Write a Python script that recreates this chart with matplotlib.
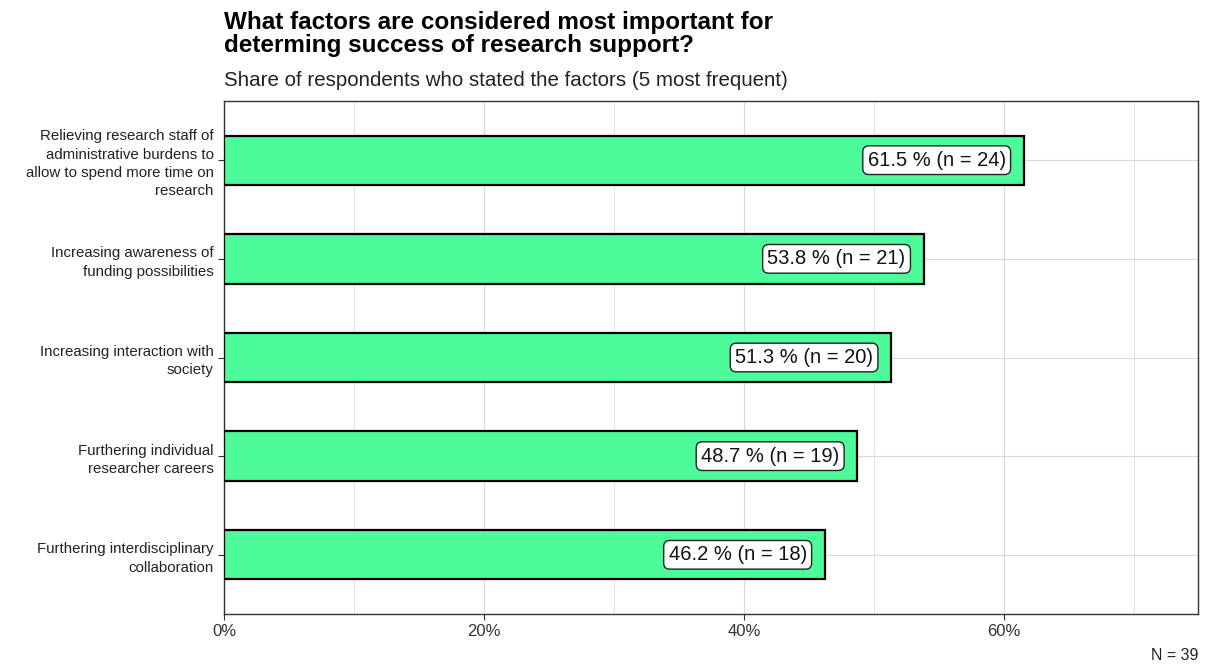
import numpy as np
from matplotlib import pyplot as plt
from matplotlib.ticker import MultipleLocator, FuncFormatter

plt.rcParams['font.family'] = ['Liberation Sans', 'DejaVu Sans']

# data (top to bottom)
factors = ['Relieving research staff of\nadministrative burdens to\nallow to spend more time on\nresearch',
           'Increasing awareness of\nfunding possibilities',
           'Increasing interaction with\nsociety',
           'Furthering individual\nresearcher careers',
           'Furthering interdisciplinary\ncollaboration']
shares = [61.5, 53.8, 51.3, 48.7, 46.2]
counts = [24, 21, 20, 19, 18]
total_n = 39

fig = plt.figure(figsize=(12.05, 6.64), dpi=100)
fig.subplots_adjust(left=224/1205, right=1198/1205, top=1-101/664, bottom=1-614/664)
ax = fig.add_subplot(111)

ypos = np.arange(len(factors))
ax.barh(ypos, shares, height=0.5, color='#4DFB9B', edgecolor='black', linewidth=1.6, zorder=3)

# value labels in white boxes inside the bar ends
for y, v, c in zip(ypos, shares, counts):
    ax.annotate('{:.1f} % (n = {})'.format(v, c), xy=(v, y), xytext=(-18, 0),
                textcoords='offset pixels', ha='right', va='center', fontsize=14.5,
                color='#111111', zorder=4,
                bbox=dict(boxstyle='round,pad=0.24,rounding_size=0.3', fc='white', ec='#222222', lw=1))

ax.set_xlim(0, 74.9)
ax.set_ylim(len(factors) - 0.4, -0.6)
ax.set_yticks(ypos)
ax.set_yticklabels(factors, fontsize=10.8, color='#222222')
for lbl in ax.get_yticklabels():
    lbl.set_linespacing(1.4)
ax.xaxis.set_major_locator(MultipleLocator(20))
ax.xaxis.set_minor_locator(MultipleLocator(10))
ax.xaxis.set_major_formatter(FuncFormatter(lambda x, p: '{:.0f}%'.format(x)))
ax.tick_params(axis='x', labelsize=12, colors='#333333', length=4, width=0.8)
ax.tick_params(axis='x', which='minor', length=0)
ax.tick_params(axis='y', length=4, width=0.8, colors='#333333', labelcolor='#222222')
ax.grid(True, which='major', color='#d9d9d9', linewidth=0.8, zorder=0)
ax.grid(True, which='minor', axis='x', color='#e3e3e3', linewidth=0.7, zorder=0)
ax.set_axisbelow(True)
for s in ax.spines.values():
    s.set_color('#333333')
    s.set_linewidth(1)

fig.text(224/1205, 1-11/664, 'What factors are considered most important for\ndeterming success of research support?',
         ha='left', va='top', fontsize=17.5, fontweight='bold', linespacing=1.0)
fig.text(224/1205, 1-80/664, 'Share of respondents who stated the factors (5 most frequent)',
         ha='left', va='center', fontsize=14.8, color='#222222')
fig.text(1198/1205, 1-655/664, 'N = {}'.format(total_n), ha='right', va='center', fontsize=11.5, color='#222222')

fig.savefig('out.png', dpi=100)
